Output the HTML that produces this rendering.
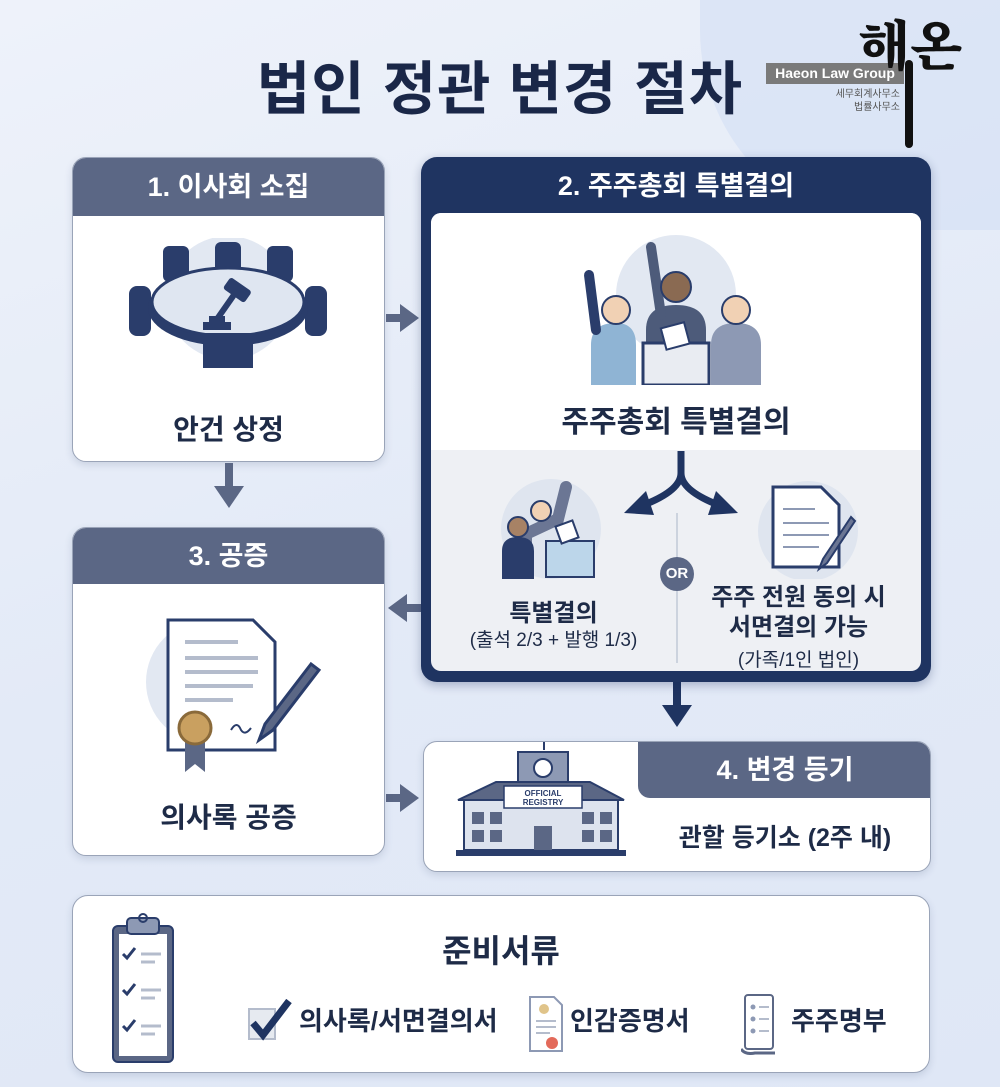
<!DOCTYPE html>
<html><head><meta charset="utf-8"><style>
*{margin:0;padding:0;box-sizing:border-box}
body{width:1000px;height:1087px;position:relative;overflow:hidden;background:linear-gradient(160deg,#eef2fa 0%,#e3eaf7 50%,#dfe7f6 100%);font-family:"Liberation Sans","Noto Sans CJK KR",sans-serif;color:#1e2b47}
.a{position:absolute}
.box{position:absolute;background:#fff;border-radius:14px;border:1.5px solid #9aa4b8;overflow:hidden;box-shadow:0 3px 8px rgba(40,60,100,.15)}
.hd{position:absolute;left:0;right:0;top:0;color:#fff;font-weight:bold;font-size:27px;text-align:center}
.t{position:absolute;font-weight:bold;text-align:center;white-space:nowrap}
</style></head><body>
<div class="a" style="left:700px;top:0;width:300px;height:230px;border-radius:0 0 0 200px;background:#d6e1f5;opacity:.7"></div>
<div class="t" style="left:200px;width:600px;top:42px;font-size:58px;color:#1a2748;letter-spacing:1px">법인 정관 변경 절차</div>
<!-- logo -->
<div class="a" style="left:766px;top:63px;width:138px;height:21px;background:#7a7a7a;color:#fff;font-size:14px;font-weight:bold;text-align:center;line-height:21px">Haeon Law Group</div>
<div class="a" style="left:800px;top:88px;width:100px;text-align:right;font-size:10px;color:#555;line-height:13px">세무회계사무소<br>법률사무소</div>
<div class="t" style="left:858px;top:4px;font-size:54px;font-family:'Noto Serif CJK SC',serif;color:#111;font-weight:900">해온</div>
<div class="a" style="left:905px;top:60px;width:8px;height:88px;background:#111;border-radius:4px"></div>

<!-- box1 -->
<div class="box" style="left:72px;top:157px;width:313px;height:305px">
 <div class="hd" style="height:58px;line-height:58px;background:#5b6785">1. 이사회 소집</div>
 <svg class="a" style="left:50px;top:80px" width="210" height="140" viewBox="0 0 210 140">
  <circle cx="105" cy="60" r="62" fill="#e2e8f2"/>
  <g fill="#2a3d6b"><rect x="40" y="8" width="26" height="36" rx="6"/><rect x="92" y="4" width="26" height="36" rx="6"/><rect x="144" y="8" width="26" height="36" rx="6"/>
  <rect x="6" y="48" width="22" height="50" rx="8"/><rect x="182" y="48" width="22" height="50" rx="8"/></g>
  <ellipse cx="105" cy="70" rx="80" ry="38" fill="#2a3d6b"/>
  <ellipse cx="105" cy="64" rx="76" ry="34" fill="#dfe6f1" stroke="#2a3d6b" stroke-width="3"/>
  <rect x="80" y="95" width="50" height="35" fill="#2a3d6b"/>
  <rect x="80" y="84" width="28" height="8" fill="#2a3d6b"/><rect x="86" y="78" width="16" height="7" fill="#2a3d6b"/>
  <g transform="rotate(35 110 60)"><rect x="96" y="44" width="26" height="14" rx="3" fill="#2a3d6b"/><rect x="106" y="56" width="6" height="30" fill="#2a3d6b"/></g>
 </svg>
 <div class="t" style="left:0;right:0;top:250px;font-size:28px">안건 상정</div>
</div>
<!-- arrows -->
<svg class="a" style="left:384px;top:302px" width="36" height="32"><path d="M2 16H22" stroke="#5b6785" stroke-width="8"/><path d="M16 2L35 16L16 30Z" fill="#5b6785"/></svg>
<svg class="a" style="left:211px;top:463px" width="36" height="48"><path d="M18 0V28" stroke="#5b6785" stroke-width="8"/><path d="M3 23L18 45L33 23Z" fill="#5b6785"/></svg>
<svg class="a" style="left:387px;top:592px" width="36" height="32"><path d="M14 16H34" stroke="#5b6785" stroke-width="8"/><path d="M20 2L1 16L20 30Z" fill="#5b6785"/></svg>
<svg class="a" style="left:384px;top:782px" width="36" height="32"><path d="M2 16H22" stroke="#5b6785" stroke-width="8"/><path d="M16 2L35 16L16 30Z" fill="#5b6785"/></svg>
<svg class="a" style="left:659px;top:682px" width="36" height="48"><path d="M18 0V28" stroke="#1f3461" stroke-width="8"/><path d="M3 23L18 45L33 23Z" fill="#1f3461"/></svg>

<!-- box2 -->
<div class="a" style="left:421px;top:157px;width:510px;height:525px;background:#1f3461;border-radius:16px;box-shadow:0 3px 10px rgba(20,40,90,.3)">
 <div class="hd" style="height:56px;line-height:58px">2. 주주총회 특별결의</div>
 <div class="a" style="left:10px;top:56px;width:490px;height:458px;background:#eef0f4;border-radius:10px;overflow:hidden">
  <div class="a" style="left:0;top:0;width:490px;height:237px;background:#fff"></div>
  <svg class="a" style="left:150px;top:22px" width="190" height="150" viewBox="0 0 190 150">
   <circle cx="95" cy="60" r="60" fill="#e2e8f2"/>
   <path d="M10 150V110Q10 88 35 88Q55 88 55 110V150Z" fill="#8fb4d4"/><path d="M15 95L8 40" stroke="#2a3d6b" stroke-width="10" stroke-linecap="round"/><circle cx="35" cy="75" r="14" fill="#f1d1b4" stroke="#2a3d6b" stroke-width="2"/>
   <path d="M130 150V110Q130 88 155 88Q180 88 180 110V150Z" fill="#8d99b4"/><circle cx="155" cy="75" r="14" fill="#f1d1b4" stroke="#2a3d6b" stroke-width="2"/>
   <path d="M65 150V95Q65 70 95 70Q125 70 125 95V150Z" fill="#4d5b7a"/><path d="M80 80L70 12" stroke="#4d5b7a" stroke-width="10" stroke-linecap="round"/><circle cx="95" cy="52" r="15" fill="#8a6a52" stroke="#2a3d6b" stroke-width="2"/>
   <rect x="62" y="108" width="66" height="42" fill="#e9ecf2" stroke="#2a3d6b" stroke-width="3"/><rect x="82" y="90" width="24" height="22" fill="#fff" stroke="#2a3d6b" stroke-width="2" transform="rotate(-15 94 100)"/>
  </svg>
  <div class="t" style="left:0;right:0;top:184px;font-size:30px">주주총회 특별결의</div>
  <svg class="a" style="left:185px;top:238px" width="130" height="72" viewBox="0 0 130 72"><path d="M65 0V22Q65 40 25 55M65 22Q65 40 105 55" stroke="#1f3461" stroke-width="7" fill="none"/><path d="M30 40L8 62L38 64Z" fill="#1f3461"/><path d="M100 40L122 62L92 64Z" fill="#1f3461"/></svg>
  <div class="a" style="left:245px;top:300px;width:2px;height:150px;background:#ccd3de"></div>
  <div class="a" style="left:229px;top:344px;width:34px;height:34px;border-radius:50%;background:#5b6785;color:#fff;font-weight:bold;font-size:15px;text-align:center;line-height:34px">OR</div>
  <svg class="a" style="left:65px;top:266px" width="110" height="100" viewBox="0 0 110 100"><circle cx="55" cy="50" r="50" fill="#dfe5ef"/><path d="M30 90V55L62 40L70 8" stroke="#6b7694" stroke-width="12" fill="none" stroke-linecap="round"/><circle cx="45" cy="32" r="10" fill="#f1d1b4" stroke="#2a3d6b" stroke-width="2"/><path d="M6 100V72Q6 58 22 58Q38 58 38 72V100Z" fill="#2a3d6b"/><circle cx="22" cy="48" r="10" fill="#a78265" stroke="#2a3d6b" stroke-width="2"/><rect x="50" y="62" width="48" height="36" fill="#bcd6ea" stroke="#2a3d6b" stroke-width="2"/><rect x="62" y="44" width="18" height="18" fill="#fff" stroke="#2a3d6b" stroke-width="2" transform="rotate(-20 71 53)"/></svg>
  <div class="t" style="left:0;width:245px;top:380px;font-size:24px">특별결의</div>
  <div class="t" style="left:0;width:245px;top:412px;font-size:19px;font-weight:normal">(출석 2/3 + 발행 1/3)</div>
  <svg class="a" style="left:322px;top:266px" width="110" height="100" viewBox="0 0 110 100"><circle cx="55" cy="52" r="50" fill="#dfe5ef"/><path d="M20 8H68L86 26V88H20Z" fill="#fff" stroke="#2a3d6b" stroke-width="3"/><g stroke="#8d99b4" stroke-width="2"><path d="M30 30H62M30 44H76M30 56H76M30 68H66"/></g><path d="M98 38L70 80L66 90L74 84L102 42Z" fill="#6b7694" stroke="#2a3d6b" stroke-width="2"/></svg>
  <div class="t" style="left:245px;width:245px;top:370px;font-size:24px;line-height:30px">주주 전원 동의 시<br>서면결의 가능</div>
  <div class="t" style="left:245px;width:245px;top:432px;font-size:19px;font-weight:normal">(가족/1인 법인)</div>
 </div>
</div>

<!-- box3 -->
<div class="box" style="left:72px;top:527px;width:313px;height:329px">
 <div class="hd" style="height:56px;line-height:56px;background:#5b6785">3. 공증</div>
 <svg class="a" style="left:70px;top:84px" width="180" height="170" viewBox="0 0 180 170"><circle cx="65" cy="70" r="62" fill="#e2e8f2"/><path d="M25 8H110L132 30V138H25Z" fill="#fff" stroke="#2a3d6b" stroke-width="3"/><g stroke="#b4bccc" stroke-width="4"><path d="M42 30H95M42 46H115M42 60H115M42 74H110M42 88H90"/></g><path d="M88 118q6-10 10 0q4 6 10-2" stroke="#2a3d6b" stroke-width="2" fill="none"/><path d="M42 128V160L52 152L62 160V128Z" fill="#5b6785"/><circle cx="52" cy="116" r="16" fill="#c9a060" stroke="#8a6a3a" stroke-width="3"/><path d="M168 52L122 112L116 128L130 118L176 58Z" fill="#5b6785" stroke="#2a3d6b" stroke-width="3"/></svg>
 <div class="t" style="left:0;right:0;top:268px;font-size:28px">의사록 공증</div>
</div>

<!-- box4 -->
<div class="box" style="left:423px;top:741px;width:508px;height:131px">
 <div class="a" style="left:214px;top:0;width:294px;height:56px;background:#5b6785;border-bottom-left-radius:12px;color:#fff;font-weight:bold;font-size:27px;text-align:center;line-height:56px">4. 변경 등기</div>
 <svg class="a" style="left:32px;top:-12px" width="170" height="130" viewBox="0 0 170 130"><path d="M88 0V20" stroke="#2a3d6b" stroke-width="2"/><rect x="88" y="0" width="14" height="9" fill="#2a3d6b"/><rect x="62" y="22" width="50" height="30" fill="#8d99b4" stroke="#2a3d6b" stroke-width="2"/><circle cx="87" cy="38" r="9" fill="#fff" stroke="#2a3d6b" stroke-width="2"/><path d="M2 70L40 52H134L168 70Z" fill="#5b6785" stroke="#2a3d6b" stroke-width="2"/><rect x="8" y="70" width="154" height="50" fill="#dde3ee" stroke="#2a3d6b" stroke-width="2"/><rect x="48" y="56" width="78" height="22" fill="#fff" stroke="#2a3d6b" stroke-width="1.5"/><text x="87" y="66" font-size="8" font-weight="bold" text-anchor="middle" fill="#2a3d6b" font-family="Liberation Sans">OFFICIAL</text><text x="87" y="75" font-size="8" font-weight="bold" text-anchor="middle" fill="#2a3d6b" font-family="Liberation Sans">REGISTRY</text><g fill="#5b6785"><rect x="16" y="82" width="12" height="12"/><rect x="16" y="100" width="12" height="12"/><rect x="34" y="82" width="12" height="12"/><rect x="34" y="100" width="12" height="12"/><rect x="126" y="82" width="12" height="12"/><rect x="126" y="100" width="12" height="12"/><rect x="144" y="82" width="12" height="12"/><rect x="144" y="100" width="12" height="12"/><rect x="78" y="96" width="18" height="24"/></g><rect x="0" y="120" width="170" height="6" fill="#2a3d6b"/></svg>
 <div class="t" style="left:214px;width:294px;top:76px;font-size:25px">관할 등기소 (2주 내)</div>
</div>

<!-- bottom -->
<div class="box" style="left:72px;top:895px;width:858px;height:178px;border-radius:16px">
 <svg class="a" style="left:38px;top:16px" width="64" height="152" viewBox="0 0 64 152"><rect x="2" y="14" width="60" height="136" rx="5" fill="#5b6785" stroke="#2a3d6b" stroke-width="2"/><rect x="8" y="22" width="48" height="122" fill="#fff"/><rect x="16" y="6" width="32" height="16" rx="4" fill="#8d99b4" stroke="#2a3d6b" stroke-width="2"/><circle cx="32" cy="6" r="4" fill="none" stroke="#2a3d6b" stroke-width="2"/><g stroke="#2a3d6b" stroke-width="3" fill="none"><path d="M12 42l4 4 8-10M12 78l4 4 8-10M12 114l4 4 8-10"/></g><g stroke="#b4bccc" stroke-width="3"><path d="M30 42H50M30 50H44M30 78H50M30 86H44M30 114H50M30 122H44"/></g></svg>
 <div class="t" style="left:0;right:0;top:30px;font-size:32px">준비서류</div>
 <svg class="a" style="left:170px;top:103px" width="52" height="44"><rect x="6" y="10" width="26" height="30" fill="#e6eaf0" stroke="#b4bccc" stroke-width="2"/><path d="M10 24l10 12L46 2" stroke="#1f3461" stroke-width="7" fill="none"/></svg>
 <div class="t" style="left:226px;top:105px;font-size:26px">의사록/서면결의서</div>
 <svg class="a" style="left:455px;top:97px" width="36" height="62"><path d="M2 4H26L34 12V58H2Z" fill="#fff" stroke="#8d99b4" stroke-width="2"/><circle cx="16" cy="16" r="5" fill="#e0c48a"/><path d="M8 28H28M8 34H28M8 40H22" stroke="#b4bccc" stroke-width="2"/><circle cx="24" cy="50" r="6" fill="#e36a5a"/></svg>
 <div class="t" style="left:497px;top:105px;font-size:26px">인감증명서</div>
 <svg class="a" style="left:668px;top:97px" width="40" height="62"><rect x="4" y="2" width="28" height="54" rx="3" fill="#fff" stroke="#5b6785" stroke-width="2"/><g fill="#8d99b4"><circle cx="12" cy="14" r="2.5"/><circle cx="12" cy="26" r="2.5"/><circle cx="12" cy="38" r="2.5"/></g><path d="M18 14H28M18 26H28M18 38H28" stroke="#b4bccc" stroke-width="2"/><path d="M0 56Q4 62 14 60H34" stroke="#5b6785" stroke-width="3" fill="none"/></svg>
 <div class="t" style="left:718px;top:105px;font-size:26px">주주명부</div>
</div>
</body></html>
